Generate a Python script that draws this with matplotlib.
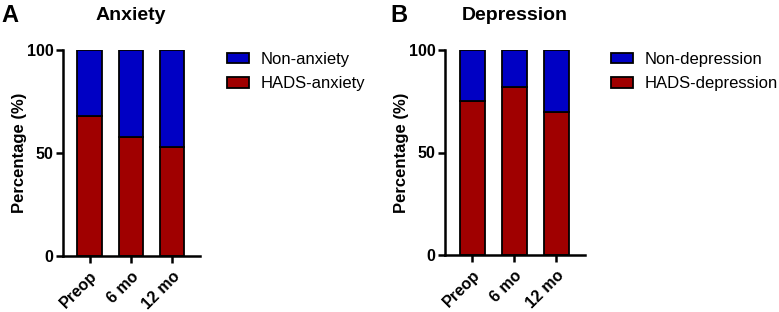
import matplotlib
matplotlib.use('Agg')
import matplotlib.pyplot as plt
from matplotlib.patches import Patch

plt.rcParams['font.family'] = ['Liberation Sans', 'DejaVu Sans']

timepoints = ['Preop', '6 mo', '12 mo']
hads_anxiety = [68, 58, 53]
hads_depression = [75, 82, 70]

blue = '#0000C4'
red = '#A00000'

fig = plt.figure(figsize=(7.79, 3.12), dpi=100)


def panel(rect, values, pos_label, neg_label, title, letter, leg_x, title_x, letter_x):
    ax = fig.add_axes(rect)
    x = range(len(timepoints))
    rest = [100 - v for v in values]
    ax.bar(x, values, width=0.6, color=red, edgecolor='black', linewidth=1.3)
    ax.bar(x, rest, bottom=values, width=0.6, color=blue, edgecolor='black', linewidth=1.3)
    ax.set_xlim(-0.65, 2.68)
    ax.set_ylim(0, 100)
    ax.set_yticks([0, 50, 100])
    ax.set_xticks(list(x))
    ax.set_xticklabels(timepoints, rotation=45, ha='right', rotation_mode='anchor',
                       fontsize=11.5, fontweight='bold')
    for lab in ax.get_yticklabels():
        lab.set_fontsize(11.5)
        lab.set_fontweight('bold')
    ax.tick_params(axis='both', width=1.8, length=5, pad=2)
    ax.tick_params(axis='x', pad=4)
    for s in ['top', 'right']:
        ax.spines[s].set_visible(False)
    for s in ['left', 'bottom']:
        ax.spines[s].set_linewidth(1.8)
    ax.set_ylabel('Percentage (%)', fontsize=12, fontweight='bold')
    ax.yaxis.set_label_coords(-0.26, 0.5)
    handles = [Patch(facecolor=blue, edgecolor='black', linewidth=1.3, label=neg_label),
               Patch(facecolor=red, edgecolor='black', linewidth=1.3, label=pos_label)]
    ax.legend(handles=handles, loc='upper left', bbox_to_anchor=(leg_x, 0.86),
              bbox_transform=fig.transFigure, frameon=False, borderpad=0,
              fontsize=12, handlelength=1.3, handleheight=0.6,
              handletextpad=0.7, labelspacing=0.55)
    fig.text(title_x, 1 - 16 / 312, title, fontsize=14, fontweight='bold',
             ha='center', va='center')
    fig.text(letter_x, 1 - 16 / 312, letter, fontsize=17, fontweight='bold',
             ha='left', va='center')
    return ax


panel([63 / 779, 1 - 256 / 312, 137 / 779, 206 / 312], hads_anxiety,
      'HADS-anxiety', 'Non-anxiety', 'Anxiety', 'A', 219 / 779, 131 / 779, 1 / 779)
panel([445 / 779, 1 - 255 / 312, 140 / 779, 205 / 312], hads_depression,
      'HADS-depression', 'Non-depression', 'Depression', 'B', 603 / 779, 515 / 779, 390 / 779)

fig.savefig('out.png', dpi=100)
